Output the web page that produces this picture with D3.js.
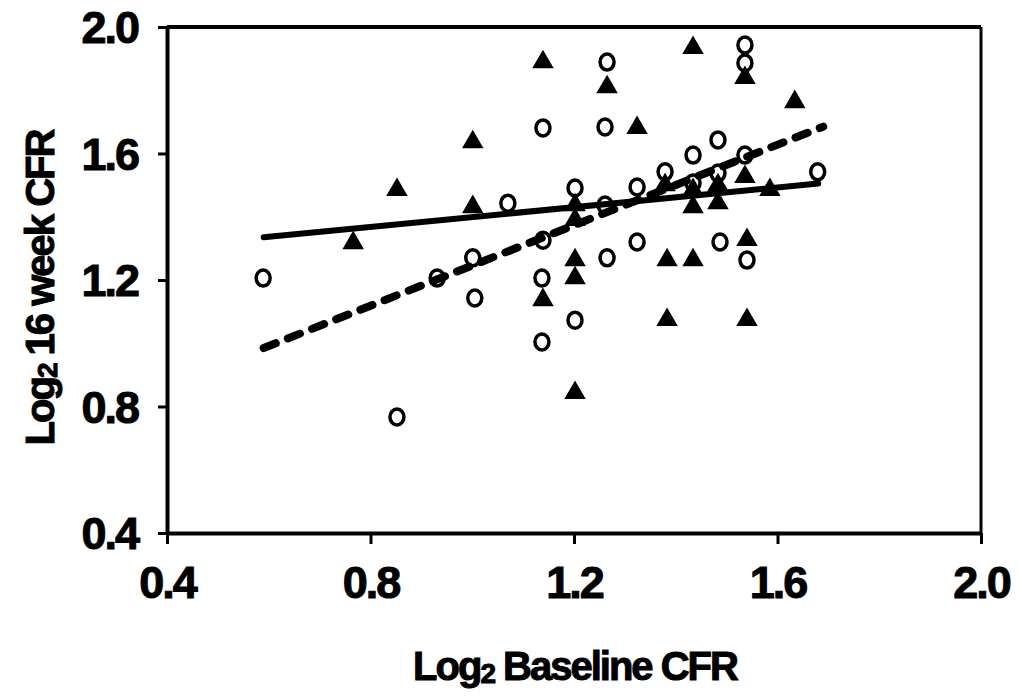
<!DOCTYPE html>
<html>
<head>
<meta charset="utf-8">
<script src="https://cdn.jsdelivr.net/npm/d3@7"></script>
<style>
  html, body { margin: 0; padding: 0; background: #fff; }
  svg { display: block; }
  text { font-family: "Liberation Sans", Arial, sans-serif; font-weight: bold; fill: #000; }
</style>
</head>
<body>
<svg id="chart" width="1021" height="696"></svg>
<script>
// ---- data ----
const xTicks = [0.4, 0.8, 1.2, 1.6, 2.0];
const yTicks = [0.4, 0.8, 1.2, 1.6, 2.0];
const xDomain = [0.4, 2.0];
const yDomain = [0.4, 2.0];

// open circles: [baseline, 16 week]
const circlesX = [0.589, 0.852, 0.931, 1.001, 1.005, 1.070, 1.139, 1.139, 1.137, 1.137,
                  1.202, 1.202, 1.265, 1.261, 1.265, 1.261, 1.324, 1.324, 1.379, 1.434,
                  1.483, 1.487, 1.536, 1.536, 1.540, 1.536, 1.679, 1.434, 1.483];
const circlesY = [1.206, 0.767, 1.206, 1.270, 1.143, 1.443, 1.681, 1.326, 1.206, 1.004,
                  1.073, 1.491, 1.889, 1.684, 1.270, 1.437, 1.320, 1.494, 1.542, 1.595,
                  1.643, 1.320, 1.943, 1.886, 1.263, 1.595, 1.542, 1.507, 1.538];

// filled triangles
const trianglesX = [0.766, 0.852, 1.001, 1.001, 1.139, 1.139, 1.202, 1.202, 1.202, 1.202,
                    1.202, 1.265, 1.324, 1.383, 1.383, 1.434, 1.434, 1.536, 1.540, 1.540,
                    1.585, 1.634, 1.536, 1.434, 1.434, 1.483, 1.483, 1.379];
const trianglesY = [1.317, 1.485, 1.636, 1.431, 1.889, 1.137, 0.843, 1.206, 1.263, 1.390,
                    1.437, 1.810, 1.681, 1.074, 1.263, 1.263, 1.934, 1.839, 1.074, 1.327,
                    1.485, 1.763, 1.526, 1.431, 1.485, 1.443, 1.500, 1.500];

// regression lines (endpoints)
const solidLineX = [0.59, 1.68];
const solidLineY = [1.335, 1.505];
const dashedLineX = [0.59, 1.69];
const dashedLineY = [0.985, 1.685];

// ---- drawing ----
const svg = d3.select("#chart");
const x = d3.scaleLinear().domain(xDomain).range([167, 981]);
const y = d3.scaleLinear().domain(yDomain).range([533, 27]);

// frame (top & right)
svg.append("line").attr("x1", x(0.4)).attr("x2", x(2.0)).attr("y1", y(2.0)).attr("y2", y(2.0))
  .attr("stroke", "#000").attr("stroke-width", 4);
svg.append("line").attr("x1", x(2.0)).attr("x2", x(2.0)).attr("y1", y(2.0)).attr("y2", y(0.4))
  .attr("stroke", "#000").attr("stroke-width", 3);

// axes
const xAxis = d3.axisBottom(x).tickValues(xTicks).tickFormat(d3.format(".1f"))
  .tickSizeInner(11).tickSizeOuter(0).tickPadding(22);
const yAxis = d3.axisLeft(y).tickValues(yTicks).tickFormat(d3.format(".1f"))
  .tickSizeInner(9).tickSizeOuter(0).tickPadding(20);

const gx = svg.append("g").attr("transform", `translate(0,${y(0.4)})`).call(xAxis);
const gy = svg.append("g").attr("transform", `translate(${x(0.4)},0)`).call(yAxis);

[gx, gy].forEach(g => {
  g.select(".domain").attr("stroke", "#000").attr("stroke-width", 4);
  g.selectAll(".tick line").attr("stroke", "#000").attr("stroke-width", 3);
  g.selectAll(".tick text")
    .style("font-family", '"Liberation Sans", Arial, sans-serif')
    .style("font-weight", "bold")
    .style("font-size", "45px")
    .style("letter-spacing", "-2px")
    .attr("stroke", "#000").attr("stroke-width", 1)
    .attr("fill", "#000");
});
gx.selectAll(".tick text").attr("dy", "0.71em");
gy.selectAll(".tick text").attr("dy", "0.35em");

// regression lines
const line = d3.line().x(d => x(d[0])).y(d => y(d[1]));
svg.append("path")
  .datum(solidLineX.map((v, i) => [v, solidLineY[i]]))
  .attr("d", line).attr("fill", "none").attr("stroke", "#000")
  .attr("stroke-width", 6).attr("stroke-linecap", "round");
svg.append("path")
  .datum(dashedLineX.map((v, i) => [v, dashedLineY[i]]))
  .attr("d", line).attr("fill", "none").attr("stroke", "#000")
  .attr("stroke-width", 8).attr("stroke-linecap", "round")
  .attr("stroke-dasharray", "13,13");

// circles
svg.append("g").selectAll("ellipse")
  .data(circlesX.map((v, i) => [v, circlesY[i]]))
  .join("ellipse")
  .attr("cx", d => x(d[0])).attr("cy", d => y(d[1]))
  .attr("rx", 7).attr("ry", 8)
  .attr("fill", "none").attr("stroke", "#000").attr("stroke-width", 3.5);

// triangles
const tri = d3.symbol().type(d3.symbolTriangle).size(200);
svg.append("g").selectAll("path")
  .data(trianglesX.map((v, i) => [v, trianglesY[i]]))
  .join("path")
  .attr("d", tri)
  .attr("transform", d => `translate(${x(d[0])},${y(d[1])})`)
  .attr("fill", "#000");

// axis titles
const xt = svg.append("text")
  .attr("x", 575).attr("y", 680)
  .attr("text-anchor", "middle")
  .attr("stroke", "#000").attr("stroke-width", 1)
  .style("font-size", "40px").style("letter-spacing", "-2px");
xt.append("tspan").text("Log");
xt.append("tspan").text("2").style("font-size", "28px").attr("dy", 3);
xt.append("tspan").text(" Baseline CFR").attr("dy", -3);

const yt = svg.append("text")
  .attr("transform", "translate(54,288) rotate(-90)")
  .attr("text-anchor", "middle")
  .attr("stroke", "#000").attr("stroke-width", 1)
  .style("font-size", "40px").style("letter-spacing", "-2px");
yt.append("tspan").text("Log");
yt.append("tspan").text("2").style("font-size", "28px").attr("dy", 3);
yt.append("tspan").text(" 16 week CFR").attr("dy", -3);
</script>
</body>
</html>
